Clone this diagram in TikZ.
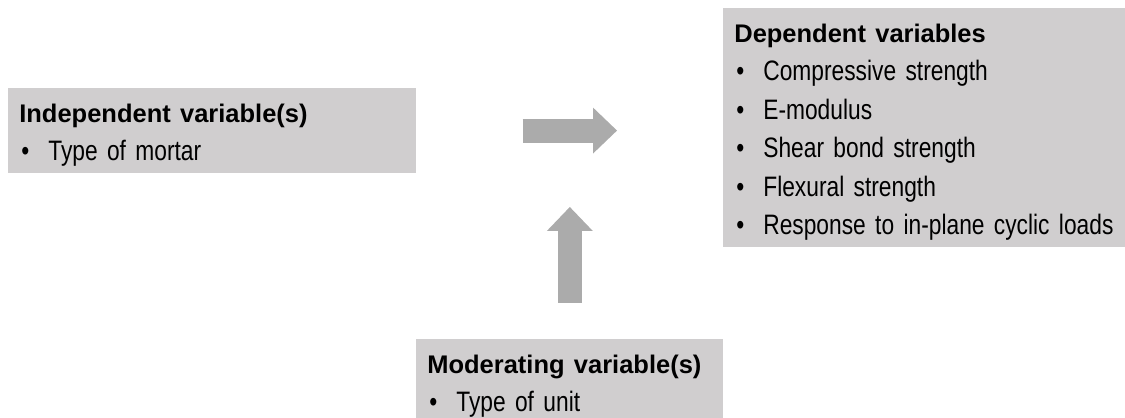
\documentclass[tikz,border=0pt]{standalone}
\usepackage{fontspec}
\setmainfont{Liberation Sans}[FakeStretch=0.81]
\newfontfamily\headfont{Liberation Sans}
\usetikzlibrary{arrows.meta,positioning,calc}
\definecolor{boxgray}{HTML}{D0CECF}
\definecolor{arrowgray}{HTML}{ABABAB}

% first line of a box, with its top gap; bullet lines; bottom gap
\newcommand{\boxhead}[1]{\rule{0pt}{0.68cm}{\headfont\bfseries\fontsize{14.5}{21.9}\selectfont #1}}
\newcommand{\bul}[1]{\makebox[0.58cm][l]{\hspace{0.04cm}\textbullet}#1}
\newcommand{\boxend}{\rule[-0.24cm]{0pt}{0.24cm}}

\begin{document}
\begin{tikzpicture}[x=0.02cm,y=-0.02cm,
 varbox/.style={fill=boxgray,anchor=north west,align=left,inner xsep=0.22cm,
 inner ysep=0pt,font=\fontsize{16}{21.9}\selectfont},
 bigarrow/.style={draw=arrowgray,line width=0.48cm,
 -{Triangle[width=0.92cm,length=0.48cm,line width=0pt]}}]
\useasboundingbox (0,0) rectangle (1125,418);
\node[varbox,text width=7.72cm] (indep) at (8,88)
 {\boxhead{Independent variable(s)}\\ \bul{Type of mortar}\boxend};
\node[varbox,text width=7.62cm] (dep) at (723,8)
 {\boxhead{Dependent variables}\\ \bul{Compressive strength}\\
 \bul{E-modulus}\\ \bul{Shear bond strength}\\ \bul{Flexural strength}\\
 \bul{Response to in-plane cyclic loads}\boxend};
\node[varbox,text width=5.70cm] (modv) at (416,339)
 {\boxhead{Moderating variable(s)}\\ \bul{Type of unit}\boxend};
% big gray arrows
\coordinate (ra-from) at ($(indep.east)+(106,0)$);
\coordinate (ra-to) at ($(dep.west |- indep.east)+(-106,0)$);
\coordinate (ua-from) at ($(modv.north)+(0,-36)$);
\coordinate (ua-to) at ($(modv.north)+(0,-132)$);
\draw[bigarrow] (ra-from)--(ra-to);
\draw[bigarrow] (ua-from)--(ua-to);
\end{tikzpicture}
\end{document}
